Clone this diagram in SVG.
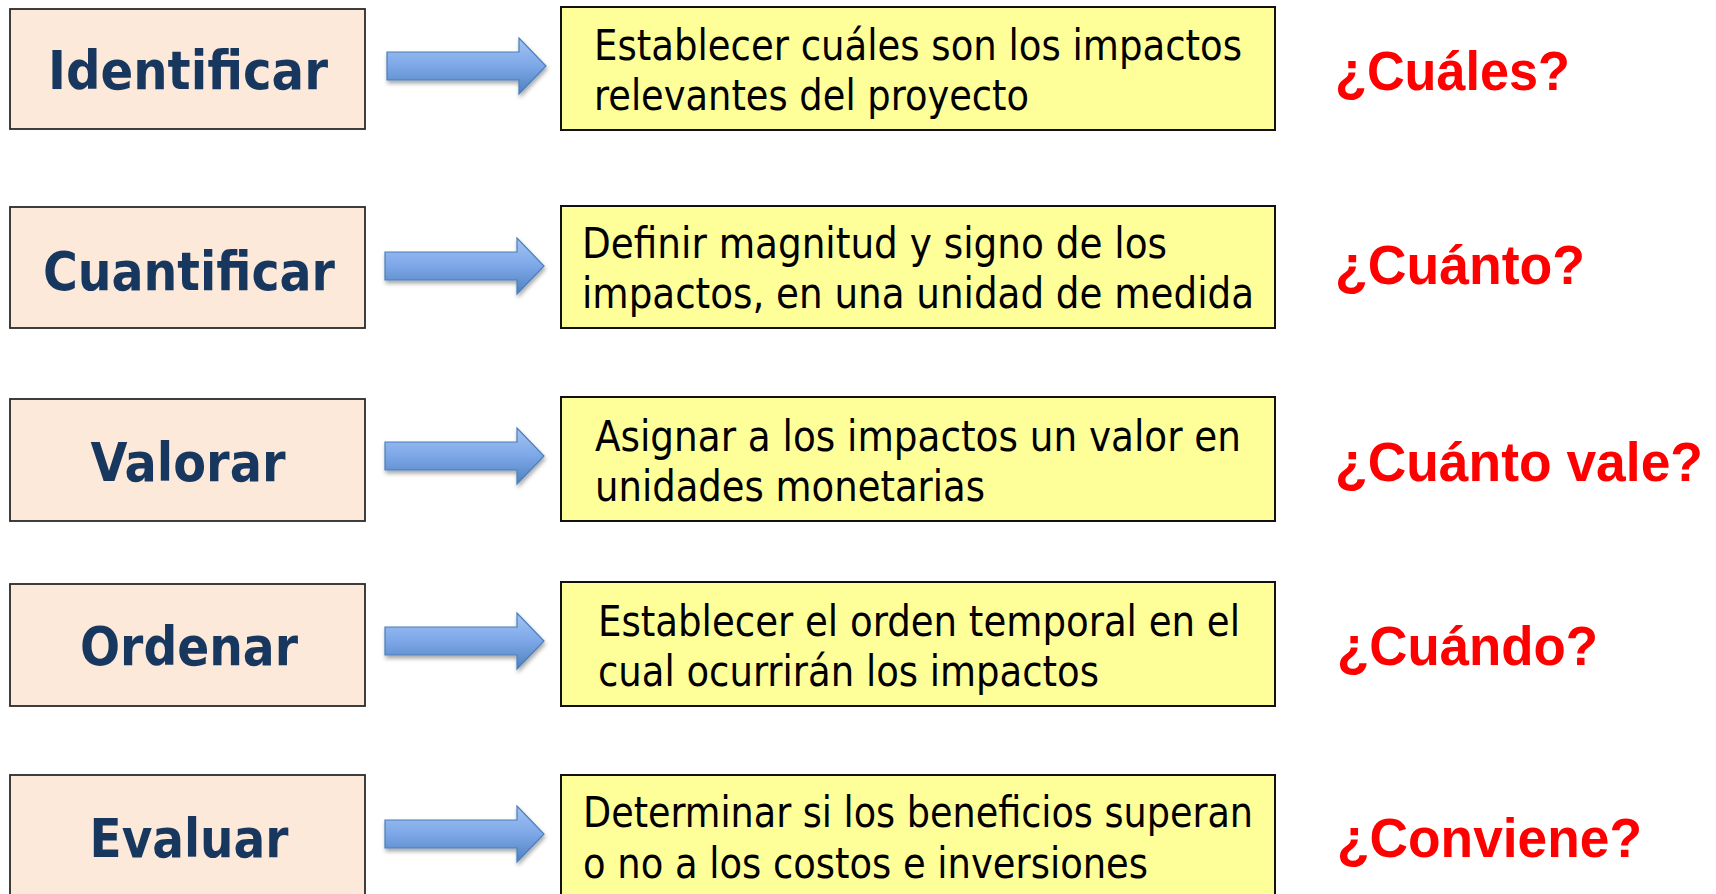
<svg xmlns="http://www.w3.org/2000/svg" width="1716" height="894" viewBox="0 0 1716 894">
<style>
.lbox{fill:#FDE9D9;stroke:#2b2b2b;stroke-width:1.8}
.ybox{fill:#FFFF99;stroke:#111;stroke-width:2}
.lt{font-family:"DejaVu Sans Condensed","DejaVu Sans",sans-serif;font-weight:bold;font-size:54px;fill:#17375E;font-stretch:condensed}
.yt{font-family:"DejaVu Sans Condensed","DejaVu Sans",sans-serif;font-size:42px;fill:#000;font-stretch:condensed}
.rt{font-family:"Liberation Sans",Arial,sans-serif;font-weight:bold;font-size:55px;fill:#FF0000}
.arr{fill:url(#ag);stroke:#4A7EBB;stroke-width:1.2;filter:url(#sh)}
</style>
<defs>
<linearGradient id="ag" x1="0" y1="0" x2="0" y2="1">
<stop offset="0" stop-color="#A3C4F3"/>
<stop offset="0.5" stop-color="#7DA7E8"/>
<stop offset="1" stop-color="#4F81BD"/>
</linearGradient>
<filter id="sh" x="-10%" y="-20%" width="130%" height="160%">
<feGaussianBlur in="SourceAlpha" stdDeviation="2"/>
<feOffset dx="1" dy="3" result="b"/>
<feComponentTransfer><feFuncA type="linear" slope="0.35"/></feComponentTransfer>
<feMerge><feMergeNode/><feMergeNode in="SourceGraphic"/></feMerge>
</filter>
<path id="arrow" d="M0,-14 L132,-14 L132,-28 L159,0 L132,28 L132,14 L0,14 Z"/>
</defs>
<rect width="1716" height="894" fill="#fff"/>

<g id="connectors">
<use href="#arrow" class="arr" x="387" y="66"/>
<use href="#arrow" class="arr" x="385" y="266"/>
<use href="#arrow" class="arr" x="385" y="456"/>
<use href="#arrow" class="arr" x="385" y="641"/>
<use href="#arrow" class="arr" x="385" y="834"/>
</g>

<g id="identificar">
<rect class="lbox" x="10" y="9" width="355" height="120"/>
<text class="lt" x="188" y="89" text-anchor="middle" textLength="280" lengthAdjust="spacingAndGlyphs">Identificar</text>
</g>
<g id="desc-identificar">
<rect class="ybox" x="561" y="7" width="714" height="123"/>
<text class="yt" x="594" y="60" textLength="648" lengthAdjust="spacingAndGlyphs">Establecer cuáles son los impactos</text>
<text class="yt" x="594" y="110" textLength="435" lengthAdjust="spacingAndGlyphs">relevantes del proyecto</text>
</g>
<g id="q-identificar"><text class="rt" x="1335" y="90" textLength="235" lengthAdjust="spacingAndGlyphs">¿Cuáles?</text></g>

<g id="cuantificar">
<rect class="lbox" x="10" y="207" width="355" height="121"/>
<text class="lt" x="189" y="290" text-anchor="middle" textLength="292" lengthAdjust="spacingAndGlyphs">Cuantificar</text>
</g>
<g id="desc-cuantificar">
<rect class="ybox" x="561" y="206" width="714" height="122"/>
<text class="yt" x="582" y="258" textLength="585" lengthAdjust="spacingAndGlyphs">Definir magnitud y signo de los</text>
<text class="yt" x="582" y="308" textLength="672" lengthAdjust="spacingAndGlyphs">impactos, en una unidad de medida</text>
</g>
<g id="q-cuantificar"><text class="rt" x="1335" y="284" textLength="250" lengthAdjust="spacingAndGlyphs">¿Cuánto?</text></g>

<g id="valorar">
<rect class="lbox" x="10" y="399" width="355" height="122"/>
<text class="lt" x="188" y="481" text-anchor="middle" textLength="195" lengthAdjust="spacingAndGlyphs">Valorar</text>
</g>
<g id="desc-valorar">
<rect class="ybox" x="561" y="397" width="714" height="124"/>
<text class="yt" x="595" y="451" textLength="646" lengthAdjust="spacingAndGlyphs">Asignar a los impactos un valor en</text>
<text class="yt" x="595" y="501" textLength="390" lengthAdjust="spacingAndGlyphs">unidades monetarias</text>
</g>
<g id="q-valorar"><text class="rt" x="1335" y="481" font-size="53" textLength="368" lengthAdjust="spacingAndGlyphs">¿Cuánto vale?</text></g>

<g id="ordenar">
<rect class="lbox" x="10" y="584" width="355" height="122"/>
<text class="lt" x="189" y="665" text-anchor="middle" textLength="218" lengthAdjust="spacingAndGlyphs">Ordenar</text>
</g>
<g id="desc-ordenar">
<rect class="ybox" x="561" y="582" width="714" height="124"/>
<text class="yt" x="598" y="636" textLength="642" lengthAdjust="spacingAndGlyphs">Establecer el orden temporal en el</text>
<text class="yt" x="598" y="686" textLength="501" lengthAdjust="spacingAndGlyphs">cual ocurrirán los impactos</text>
</g>
<g id="q-ordenar"><text class="rt" x="1337" y="665" textLength="261" lengthAdjust="spacingAndGlyphs">¿Cuándo?</text></g>

<g id="evaluar">
<rect class="lbox" x="10" y="775" width="355" height="140"/>
<text class="lt" x="189" y="857" text-anchor="middle" textLength="199" lengthAdjust="spacingAndGlyphs">Evaluar</text>
</g>
<g id="desc-evaluar">
<rect class="ybox" x="561" y="775" width="714" height="140"/>
<text class="yt" x="583" y="827" textLength="670" lengthAdjust="spacingAndGlyphs">Determinar si los beneficios superan</text>
<text class="yt" x="583" y="878" textLength="565" lengthAdjust="spacingAndGlyphs">o no a los costos e inversiones</text>
</g>
<g id="q-evaluar"><text class="rt" x="1337" y="857" textLength="305" lengthAdjust="spacingAndGlyphs">¿Conviene?</text></g>
</svg>
